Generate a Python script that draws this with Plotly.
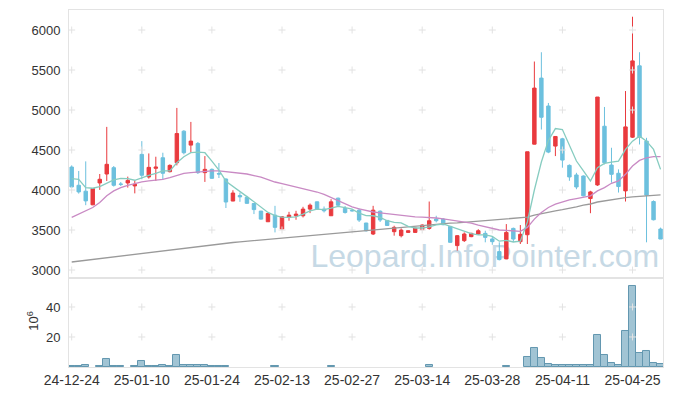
import plotly.graph_objects as go

dates = ["24-12-24","24-12-26","24-12-27","24-12-30","25-01-02","25-01-03","25-01-06","25-01-07","25-01-08","25-01-09",
         "25-01-10","25-01-13","25-01-14","25-01-15","25-01-16","25-01-17","25-01-20","25-01-21","25-01-22","25-01-23",
         "25-01-24","25-01-31","25-02-03","25-02-04","25-02-05","25-02-06","25-02-07","25-02-10","25-02-11","25-02-12",
         "25-02-13","25-02-14","25-02-17","25-02-18","25-02-19","25-02-20","25-02-21","25-02-24","25-02-25","25-02-26",
         "25-02-27","25-02-28","25-03-04","25-03-05","25-03-06","25-03-07","25-03-10","25-03-11","25-03-12","25-03-13",
         "25-03-14","25-03-17","25-03-18","25-03-19","25-03-20","25-03-21","25-03-24","25-03-25","25-03-26","25-03-27",
         "25-03-28","25-03-31","25-04-01","25-04-02","25-04-03","25-04-04","25-04-07","25-04-08","25-04-09","25-04-10",
         "25-04-11","25-04-14","25-04-15","25-04-16","25-04-17","25-04-18","25-04-21","25-04-22","25-04-23","25-04-24",
         "25-04-25","25-04-28","25-04-29","25-04-30","25-05-02"]

open_ = [4287,4059,3985,3815,4088,4200,4279,4075,4088,4051,
         4445,4163,4271,4403,4229,4341,4735,4561,4582,4217,
         4258,4205,4137,3862,3931,3908,3831,3736,3603,3686,
         3512,3657,3678,3678,3761,3852,3761,3678,3898,3769,
         3745,3748,3587,3450,3735,3620,3479,3429,3470,3470,
         3504,3520,3636,3636,3545,3305,3367,3417,3450,3458,
         3388,3230,3139,3520,3354,3441,4573,5399,5050,4549,
         4640,4308,4188,4175,3893,4063,4797,4312,4209,3989,
         4660,5552,4611,3856,3512]
high = [4308,4238,4358,4018,4200,4789,4300,4100,4167,4125,
        4611,4457,4416,4466,4320,5026,4748,4851,4600,4424,
        4270,4337,4146,3997,3968,3927,3831,3740,3707,3802,
        3675,3727,3740,3790,3831,3856,3794,3885,3905,3800,
        3760,3770,3590,3802,3745,3625,3553,3520,3495,3530,
        3570,3856,3678,3650,3550,3437,3470,3465,3510,3491,
        3425,3346,3574,3530,3562,4478,5606,5722,5088,4673,
        4652,4320,4215,4182,3990,5162,5038,4528,4258,5237,
        6166,5722,4652,3870,3530]
low = [4030,3955,3810,3810,4001,4113,4043,4050,4030,3958,
       4134,4142,4113,4134,4220,4308,4445,4466,4200,4101,
       4140,4150,3775,3860,3852,3830,3699,3630,3600,3470,
       3500,3616,3628,3657,3711,3755,3719,3675,3800,3705,
       3730,3600,3480,3437,3600,3553,3429,3408,3465,3465,
       3500,3504,3595,3560,3340,3242,3350,3410,3440,3346,
       3315,3120,3135,3350,3325,3325,4570,4756,4460,4424,
       4279,4115,4010,3920,3710,4051,4320,4092,3968,3856,
       4650,4569,3346,3620,3387]
close = [4038,3976,3864,4018,4134,4321,4059,4071,4120,4071,
         4184,4283,4287,4209,4308,4706,4466,4611,4217,4258,
         4146,4200,3850,3962,3914,3833,3755,3636,3707,3533,
         3665,3686,3699,3761,3810,3761,3740,3852,3810,3719,
         3740,3624,3491,3748,3625,3556,3533,3499,3491,3524,
         3562,3616,3616,3566,3346,3429,3450,3458,3491,3408,
         3354,3130,3470,3387,3446,4478,5274,4909,4474,4669,
         4374,4163,4038,3927,3976,5162,4341,4196,4043,4789,
         5614,4660,3935,3628,3387]

ma5 = [4142,4134,4030,4022,4043,4084,4126,4146,4142,4122,
       4155,4184,4209,4238,4238,4341,4416,4466,4474,4466,
       4362,4250,4110,4042,3979,3917,3854,3790,3720,3680,
       3660,3657,3665,3699,3740,3761,3755,3773,3794,3781,
       3761,3710,3680,3678,3657,3616,3595,3590,3545,3525,
       3525,3540,3565,3575,3545,3510,3480,3455,3440,3440,
       3420,3360,3370,3350,3360,3600,4000,4350,4620,4768,
       4756,4549,4362,4238,4113,4279,4333,4349,4362,4507,
       4611,4673,4611,4507,4258]
ma20 = [3657,3698,3740,3781,3844,3927,3989,4030,4059,4084,
        4101,4113,4122,4134,4155,4184,4209,4217,4225,4233,
        4238,4238,4230,4222,4217,4200,4180,4160,4130,4100,
        4080,4060,4040,4020,4000,3975,3945,3905,3860,3820,
        3790,3765,3745,3725,3715,3705,3690,3678,3670,3665,
        3660,3657,3650,3640,3625,3612,3600,3585,3560,3540,
        3520,3500,3495,3490,3483,3532,3636,3719,3781,3823,
        3852,3877,3893,3906,3927,3989,4030,4084,4113,4196,
        4300,4370,4403,4416,4416]
ma60 = [3100,3111,3122,3133,3144,3155,3166,3177,3188,3199,
        3210,3221,3232,3243,3254,3265,3275,3285,3295,3305,
        3315,3325,3335,3344,3352,3360,3368,3376,3384,3392,
        3400,3408,3416,3424,3432,3440,3448,3456,3464,3472,
        3480,3488,3496,3504,3512,3522,3530,3538,3546,3554,
        3562,3570,3576,3582,3586,3590,3597,3604,3610,3616,
        3622,3628,3634,3640,3650,3660,3685,3705,3725,3740,
        3755,3770,3790,3810,3825,3850,3865,3878,3890,3905,
        3915,3922,3928,3934,3939]
volume = [0.6,0.6,1.3,0,0.6,5.3,0.6,0.6,0,0.6,
          4.2,0.6,0.6,1.3,0.6,8.0,1.3,1.3,1.3,1.3,
          0.6,0.6,0.6,0,0,0,0,0,0,0.6,
          0,0,0,0,0,0,0,0.6,0,0,
          0,0,0,0,0,0,0,0,0,0,
          0,1.3,0,0,0,0,0,0,0,0,
          0,0,0.6,0,0,6.4,12.7,5.8,1.8,1.1,
          1.1,1.1,1.1,1.1,1.1,21.1,8.0,2.7,1.1,24.0,
          54.0,9.3,10.7,2.7,2.0]

price_ticks = [3000, 3500, 4000, 4500, 5000, 5500, 6000]
vol_ticks = [20, 40]
tick_idx = [0, 10, 20, 30, 40, 50, 60, 70, 80]

RED = "#e93a3e"
BLUE = "#6cc0de"
xs = list(range(len(dates)))

fig = go.Figure()

cross = dict(symbol="cross-thin", size=5, line=dict(width=1, color="#e2e2e2"))
gx, gy = [], []
for t in tick_idx:
    for p in price_ticks:
        gx.append(t); gy.append(p)
fig.add_trace(go.Scatter(x=gx, y=gy, mode="markers", xaxis="x", yaxis="y",
                         marker=cross, hoverinfo="skip", showlegend=False))
gx2, gy2 = [], []
for t in tick_idx:
    for v in vol_ticks:
        gx2.append(t); gy2.append(v)
fig.add_trace(go.Scatter(x=gx2, y=gy2, mode="markers", xaxis="x2", yaxis="y2",
                         marker=cross, hoverinfo="skip", showlegend=False))

fig.add_trace(go.Scatter(x=xs, y=ma60, mode="lines", line=dict(color="#9a9a9a", width=1.3),
                         xaxis="x", yaxis="y", showlegend=False))
fig.add_trace(go.Scatter(x=xs, y=ma20, mode="lines", line=dict(color="#c98ac4", width=1.3),
                         xaxis="x", yaxis="y", showlegend=False))
fig.add_trace(go.Scatter(x=xs, y=ma5, mode="lines", line=dict(color="#86ccc0", width=1.3),
                         xaxis="x", yaxis="y", showlegend=False))

fig.add_trace(go.Candlestick(x=xs, open=open_, high=high, low=low, close=close,
                             increasing=dict(line=dict(color=RED, width=1), fillcolor=RED),
                             decreasing=dict(line=dict(color=BLUE, width=1), fillcolor=BLUE),
                             whiskerwidth=0, xaxis="x", yaxis="y", showlegend=False))

fig.add_trace(go.Bar(x=xs, y=volume, xaxis="x2", yaxis="y2",
                     marker=dict(color="rgba(130,176,198,0.75)",
                                 line=dict(color="#6397b0", width=[1 if v > 0 else 0 for v in volume])),
                     showlegend=False))

xr = [-0.385, 84.35]
axfont = dict(family="Liberation Sans, Arial, sans-serif", size=13, color="#333")
xfont = dict(family="Liberation Sans, Arial, sans-serif", size=14, color="#333")
fig.update_layout(
    template="none",
    width=673, height=396,
    margin=dict(l=69, r=10, t=10, b=29, autoexpand=False),
    paper_bgcolor="white", plot_bgcolor="white",
    bargap=0,
    showlegend=False,
    hovermode=False,
    xaxis=dict(domain=[0, 1], anchor="y", range=xr, showgrid=False, zeroline=False, automargin=False,
               showticklabels=False, showline=True, mirror=True, linecolor="#e3e3e3",
               rangeslider=dict(visible=False), ticks=""),
    yaxis=dict(domain=[0.2493, 1], anchor="x", range=[2900, 6250], tickvals=price_ticks,
               showgrid=False, zeroline=False, showline=True, mirror=True, linecolor="#e3e3e3",
               automargin=False, tickfont=axfont, ticks="", ticklabelstandoff=5),
    xaxis2=dict(domain=[0, 1], anchor="y2", range=xr, showgrid=False, zeroline=False, automargin=False,
                tickvals=tick_idx, ticktext=[dates[i] for i in tick_idx],
                showline=True, mirror=True, linecolor="#e3e3e3", tickfont=xfont, ticks=""),
    yaxis2=dict(domain=[0, 0.2493], anchor="x2", range=[0, 59.3], tickvals=vol_ticks,
                showgrid=False, zeroline=False, showline=True, mirror=True, linecolor="#e3e3e3",
                automargin=False, tickfont=axfont, ticks="", ticklabelstandoff=5),
    shapes=[dict(type="rect", xref="paper", yref="paper", x0=0.40, x1=1.0, y0=0.26, y1=0.38,
                 line=dict(width=0), fillcolor="rgba(0,0,0,0)", layer="below",
                 label=dict(text="Leopard.InfoPointer.com",
                            font=dict(family="Liberation Sans, Arial, sans-serif",
                                      size=32, color="#c6d9e5"),
                            textposition="middle center"))],
    annotations=[dict(text="10<sup>6</sup>", xref="paper", yref="paper", x=-0.062, y=0.13,
                      xanchor="center", yanchor="middle",
                      textangle=-90, showarrow=False, font=axfont)],
)

fig.write_html("out.html", config={"displayModeBar": False},
               post_script="document.body.style.margin='0px';document.body.style.padding='0px';")
